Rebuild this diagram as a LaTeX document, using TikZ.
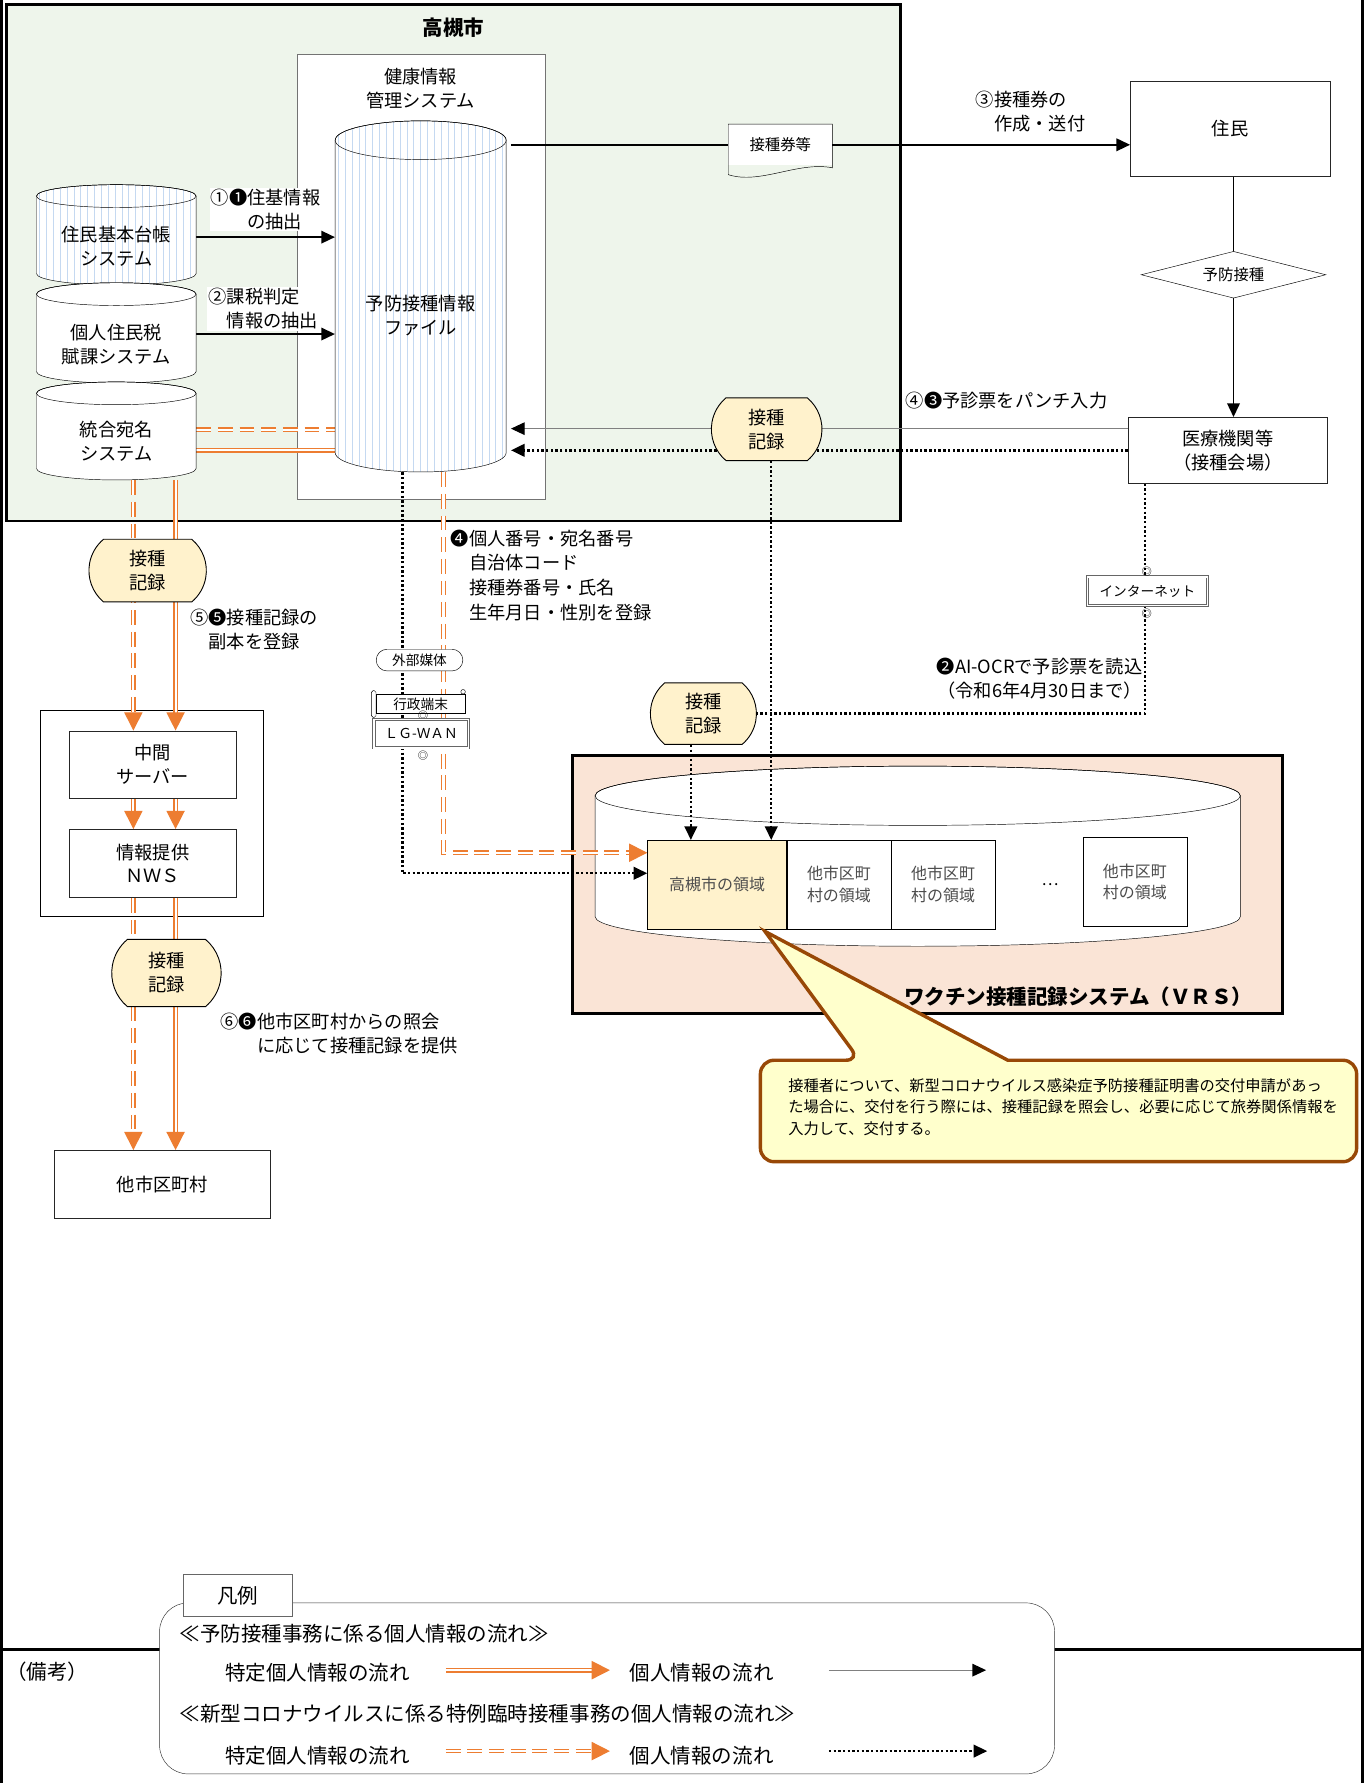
\documentclass[tikz,border=0pt]{standalone}
\usepackage{fontspec}
\setmainfont{Noto Sans CJK JP}
\usepackage{tikz}
\usetikzlibrary{shapes.geometric, shapes.misc, arrows.meta, positioning, calc}
\definecolor{cityfill}{RGB}{238,245,235}
\definecolor{vrsfill}{RGB}{250,228,214}
\definecolor{recfill}{RGB}{255,242,204}
\definecolor{specorange}{RGB}{237,125,49}
\definecolor{stripeblue}{RGB}{197,217,241}
\definecolor{notefill}{RGB}{255,255,204}
\definecolor{notebrown}{RGB}{152,72,6}
\pgfdeclarelayer{background}
\pgfdeclarelayer{lines}
\pgfsetlayers{background,lines,main}

\begin{document}
\begin{tikzpicture}[x=1pt, y=1pt, line width=1pt,
  font=\fontsize{16}{21}\selectfont,
  sysbox/.style={draw=black!85, fill=white, inner sep=0pt, align=center},
  dbtext/.style={inner sep=0pt, align=center},
  recnode/.style={rounded rectangle, rounded rectangle arc length=100, draw, fill=recfill, inner sep=0pt, align=center, line width=0.8pt},
  smalltag/.style={draw, fill=white, inner sep=0pt, font=\fontsize{12}{14}\selectfont},
  netbox/.style={draw=black!60, double=white, double distance=1.2pt, line width=0.8pt, fill=white, inner sep=0pt, font=\fontsize{12}{14}\selectfont},
  regionbox/.style={draw, inner sep=0pt, align=center, text=black!70, minimum height=78pt, font=\fontsize{14}{19}\selectfont},
  netmark/.style={inner sep=0pt, font=\fontsize{9}{9}\selectfont},
  flowline/.style={line width=1.6pt},
  infoline/.style={draw=black!50, line width=1pt},
  dotline/.style={line width=2.1pt, dash pattern=on 2.1pt off 2pt},
  specline/.style={draw=specorange, double=white, double distance=1.8pt, line width=1.2pt},
  specdash/.style={specline, dash pattern=on 13pt off 6pt},
  blacktip/.style={-{Triangle[length=12pt, width=11pt, color=black]}},
  orangetip/.style={-{Triangle[length=16pt, width=16pt]}},
  legendtext/.style={anchor=west, font=\fontsize{18}{20}\selectfont}]

  \useasboundingbox (0,0) rectangle (1200,-1564);

  % Frames and areas
  \begin{pgfonlayer}{background}
    \fill[white] (0,0) rectangle (1200,-1564);
    \draw[line width=3pt] (1.5,0) -- (1.5,-1564);
    \draw[line width=3pt] (1195,0) -- (1195,-1564);
    \draw[line width=3pt] (0,-1447) -- (1196,-1447);
    % Takatsuki
    \draw[line width=2.5pt, fill=cityfill] (6,-4) rectangle (790,-457);
    \draw[draw=black!55, fill=white] (261,-48) rectangle (478,-438);
    % Intermediate server frame
    \draw (35,-623) rectangle (231,-804);
    % VRS
    \draw[line width=2.5pt, fill=vrsfill] (502,-663) rectangle (1125,-889);
    \filldraw[fill=white] (522,-698) -- (522,-804) arc[start angle=180, end angle=360, x radius=283pt, y radius=26pt]
      -- (1088,-698) arc[start angle=0, end angle=180, x radius=283pt, y radius=26pt] -- cycle;
    \draw (805,-698) ellipse [x radius=283pt, y radius=26pt];
    % Legend frame
    \draw[draw=black!80, fill=white, rounded corners=25pt] (140,-1406) rectangle (925,-1556);
  \end{pgfonlayer}

  \node[font=\bfseries\fontsize{18}{20}\selectfont] (cityTitle) at (398,-24) {高槻市};
  \node[align=center] (kenkoTitle) at (369,-78) {健康情報\\管理システム};

  % Vaccination file
  \filldraw[fill=white, path picture={\foreach \x in {297,303,...,444} \draw[draw=stripeblue, line width=0.8pt] (\x,-100) -- (\x,-420);}]
    (294,-123) -- (294,-397) arc[start angle=180, end angle=360, x radius=75pt, y radius=17pt]
    -- (444,-123) arc[start angle=0, end angle=180, x radius=75pt, y radius=17pt] -- cycle;
  \draw (369,-123) ellipse [x radius=75pt, y radius=17pt];
  \node[dbtext, minimum width=150pt, minimum height=274pt] (file) at (369,-277) {予防接種情報\\ファイル};

  % Source systems
  \foreach \nm/\yt/\yb/\sc/\txt in {
      juki/-172/-240/stripeblue/{住民基本台帳\\システム},
      kojin/-258/-326/white/{個人住民税\\賦課システム},
      atena/-345/-411/white/{統合宛名\\システム}} {
    \filldraw[fill=white, path picture={\foreach \x in {35,41,...,172} \draw[draw=\sc, line width=0.8pt] (\x,\yt+20) -- (\x,\yb-20);}]
      (32,\yt) -- (32,\yb) arc[start angle=180, end angle=360, x radius=70pt, y radius=10pt]
      -- (172,\yt) arc[start angle=0, end angle=180, x radius=70pt, y radius=10pt] -- cycle;
    \draw (102,\yt) ellipse [x radius=70pt, y radius=10pt];
    \node[dbtext, minimum width=140pt, minimum height=68pt] (\nm) at (102,\yb+24) {\txt};
  }

  \node[fill=white, inner sep=1pt, align=left] (lblJuki) at (233,-184) {①❶住基情報\\\hspace{2em}の抽出};
  \node[fill=white, inner sep=1pt, align=left] (lblTax) at (231,-271) {②課税判定\\\hspace{1em}情報の抽出};

  % Residents and clinics
  \node[fill=white, inner sep=0pt, minimum width=91pt, minimum height=36pt, font=\fontsize{13.5}{16}\selectfont] (ticket) at (684.5,-127) {接種券等};
  \draw (ticket.north west) -- (ticket.north east) -- ([yshift=-2pt]ticket.south east)
    .. controls +(-30pt,6pt) and +(28pt,-9pt) .. ([yshift=-8pt]ticket.south west) -- cycle;
  \node[sysbox, minimum width=175pt, minimum height=84pt] (jumin) at (1079,-113) {住民};
  \node[diamond, draw, fill=white, aspect=3.9, minimum width=162pt, minimum height=41pt, inner sep=0pt, font=\fontsize{13.5}{16}\selectfont] (yobo) at (1082,-241) {予防接種};
  \node[sysbox, minimum width=175pt, minimum height=58pt] (iryo) at (1077,-395) {医療機関等\\（接種会場）};
  \node[align=left] (lblTicket) at (904,-98) {③接種券の\\\hspace{1em}作成・送付};
  \node[anchor=west] (lblPunch) at (791,-351) {④❸予診票をパンチ入力};

  % Vaccination records
  \node[recnode, minimum width=97pt, minimum height=55pt] (rec1) at (672.5,-376.5) {接種\\記録};
  \node[recnode, minimum width=93pt, minimum height=54pt] (rec2) at (617,-626) {接種\\記録};
  \node[recnode, minimum width=103pt, minimum height=55pt] (rec3) at (129.5,-500.5) {接種\\記録};
  \node[recnode, minimum width=96pt, minimum height=59pt] (rec4) at (146,-853.5) {接種\\記録};

  % Networks
  \node[netbox, minimum width=105pt, minimum height=25pt] (inet) at (1006.5,-518.5) {インターネット};
  \node[netmark] (inetTop) at (1006,-501) {◎};
  \node[netmark] (inetBot) at (1006,-538) {◎};
  \node[align=center] (lblOcr) at (912,-595.5) {❷AI-OCRで予診票を読込\\（令和6年4月30日まで）};
  \node[smalltag, rounded rectangle, minimum width=76pt, minimum height=19pt] (gaibu) at (368,-579) {外部媒体};
  \node[smalltag, minimum width=78pt, minimum height=17pt] (gyosei) at (369,-617.5) {行政端末};
  \draw[fill=white, rounded corners=1.5pt] ([xshift=-4pt,yshift=3pt]gyosei.north west) rectangle ([xshift=0pt,yshift=-3pt]gyosei.south west);
  \draw[fill=white] ([xshift=-2pt,yshift=2pt]gyosei.north east) circle (2pt);
  \node[netmark] (gyoseiMark) at (371,-628) {◎};
  \node[netbox, minimum width=83pt, minimum height=25pt] (lgwan) at (369.5,-643.5) {ＬＧ-ＷＡＮ};
  \node[netmark] (lgwanMark) at (371,-663) {◎};
  \node[anchor=west, align=left, font=\fontsize{16}{21.7}\selectfont] (lblReg) at (392,-504.5)
    {❹個人番号・宛名番号\\\hspace{1em}自治体コード\\\hspace{1em}接種券番号・氏名\\\hspace{1em}生年月日・性別を登録};

  % Intermediate server
  \node[sysbox, minimum width=146pt, minimum height=59pt] (chukan) at (134,-670.5) {中間\\サーバー};
  \node[sysbox, minimum width=146pt, minimum height=60pt, below=27pt of chukan] (nws) {情報提供\\ＮＷＳ};
  \node[sysbox, minimum width=189pt, minimum height=60pt] (other) at (142.5,-1039) {他市区町村};
  \node[align=center] (lblCopy) at (223,-552.5) {⑤❺接種記録の\\副本を登録};
  \node[anchor=west, align=left] (lblRefer) at (190,-906.5) {⑥❻他市区町村からの照会\\\hspace{2em}に応じて接種記録を提供};

  % VRS areas
  \node[regionbox, fill=recfill, minimum width=122pt] (regTk) at (629,-776) {高槻市の領域};
  \node[regionbox, fill=white, minimum width=91pt, right=0pt of regTk] (regB) {他市区町\\村の領域};
  \node[regionbox, fill=white, minimum width=91pt, right=0pt of regB] (regC) {他市区町\\村の領域};
  \node[font=\fontsize{14}{16}\selectfont] (regDots) at (921,-776) {…};
  \node[regionbox, fill=white, minimum width=91pt] (regD) at (995.5,-773.5) {他市区町\\村の領域};
  \node[anchor=east, font=\bfseries\fontsize{18}{20}\selectfont] (vrsTitle) at (1102,-874) {ワクチン接種記録システム（ＶＲＳ）};

  % Note
  \draw[draw=notebrown, line width=3pt, fill=notefill] (671,-817) -- (884,-930) [rounded corners=12pt] -- (1190,-930)
    -- (1190,-1019) -- (667,-1019) -- (667,-930) -- (754,-930) [sharp corners] -- cycle;
  \node[anchor=west, align=left, font=\fontsize{13.4}{19}\selectfont] (noteText) at (688,-971)
    {接種者について、新型コロナウイルス感染症予防接種証明書の交付申請があっ\\た場合に、交付を行う際には、接種記録を照会し、必要に応じて旅券関係情報を\\入力して、交付する。};

  % Flows
  \begin{pgfonlayer}{lines}
    \draw[flowline, blacktip] ([yshift=8pt]juki.east) -- ([yshift=8pt]juki.east -| file.west);
    \draw[flowline, blacktip] ([yshift=9pt]kojin.east) -- ([yshift=9pt]kojin.east -| file.west);
    \draw[specdash] ([yshift=10pt]atena.east) -- ([yshift=10pt]atena.east -| file.west);
    \draw[specline] ([yshift=-8pt]atena.east) -- ([yshift=-8pt]atena.east -| file.west);
    \draw[flowline, blacktip] ([xshift=4pt]file.east |- ticket.west) -- (ticket.west -| jumin.west);
    \draw[flowline] (yobo.north |- jumin.south) -- (yobo.north);
    \draw[flowline, blacktip] (yobo.south) -- (yobo.south |- iryo.north);
    \draw[infoline, blacktip] ([yshift=19pt]iryo.west) -- ([yshift=19pt, xshift=4pt]iryo.west -| file.east);
    \draw[dotline, blacktip] (iryo.west) -- ([xshift=4pt]iryo.west -| file.east);
    \draw[dotline, blacktip] ([xshift=4pt]rec1.south) -- ([xshift=4pt]rec1.south |- regTk.north);
    \draw[dotline] ([xshift=15pt]iryo.south west) |- (rec2.east);
    \draw[dotline, blacktip] ([xshift=-11pt]rec2.south) -- ([xshift=-11pt]rec2.south |- regTk.north);
    \draw[dotline, blacktip] ([xshift=-16pt]file.south) |- ([yshift=10pt]regTk.west);
    \draw[specdash, orangetip] ([xshift=20pt]file.south) |- ([yshift=28pt]regTk.west);
    % To the intermediate server and other cities
    \draw[specdash, orangetip] ([xshift=-17pt]chukan.north |- atena.south) -- ([xshift=-17pt]chukan.north);
    \draw[specline, orangetip] ([xshift=20pt]chukan.north |- atena.south) -- ([xshift=20pt]chukan.north);
    \draw[specdash, orangetip] ([xshift=-17pt]chukan.south) -- ([xshift=-17pt]nws.north);
    \draw[specline, orangetip] ([xshift=20pt]chukan.south) -- ([xshift=20pt]nws.north);
    \draw[specdash, orangetip] ([xshift=-17pt]nws.south) -- ([xshift=-17pt]nws.south |- other.north);
    \draw[specline, orangetip] ([xshift=20pt]nws.south) -- ([xshift=20pt]nws.south |- other.north);
  \end{pgfonlayer}

  % Legend
  \node[anchor=west, font=\fontsize{18}{20}\selectfont] (remarks) at (2,-1466) {（備考）};
  \node[draw=black!60, fill=white, minimum width=95pt, minimum height=37pt, font=\fontsize{18}{20}\selectfont] (legendTab) at (208.5,-1399.5) {凡例};
  \node[legendtext] (lgHeadA) at (154,-1433) {≪予防接種事務に係る個人情報の流れ≫};
  \node[legendtext] (lgSpecA) at (194,-1467) {特定個人情報の流れ};
  \node[legendtext] (lgInfoA) at (549,-1467) {個人情報の流れ};
  \node[legendtext] (lgHeadB) at (154,-1503) {≪新型コロナウイルスに係る特例臨時接種事務の個人情報の流れ≫};
  \node[legendtext] (lgSpecB) at (194,-1540) {特定個人情報の流れ};
  \node[legendtext] (lgInfoB) at (549,-1540) {個人情報の流れ};
  \coordinate (lgEndA) at (865,-1465);
  \coordinate (lgEndB) at (866,-1536);
  \draw[specline, orangetip] ([xshift=28pt,yshift=2pt]lgSpecA.east) -- ([xshift=-14pt,yshift=2pt]lgInfoA.west);
  \draw[infoline, blacktip] ([xshift=45pt,yshift=2pt]lgInfoA.east) -- (lgEndA);
  \draw[specdash, orangetip] ([xshift=28pt,yshift=4pt]lgSpecB.east) -- ([xshift=-14pt,yshift=4pt]lgInfoB.west);
  \draw[dotline, blacktip] ([xshift=45pt,yshift=4pt]lgInfoB.east) -- (lgEndB);
\end{tikzpicture}
\end{document}
